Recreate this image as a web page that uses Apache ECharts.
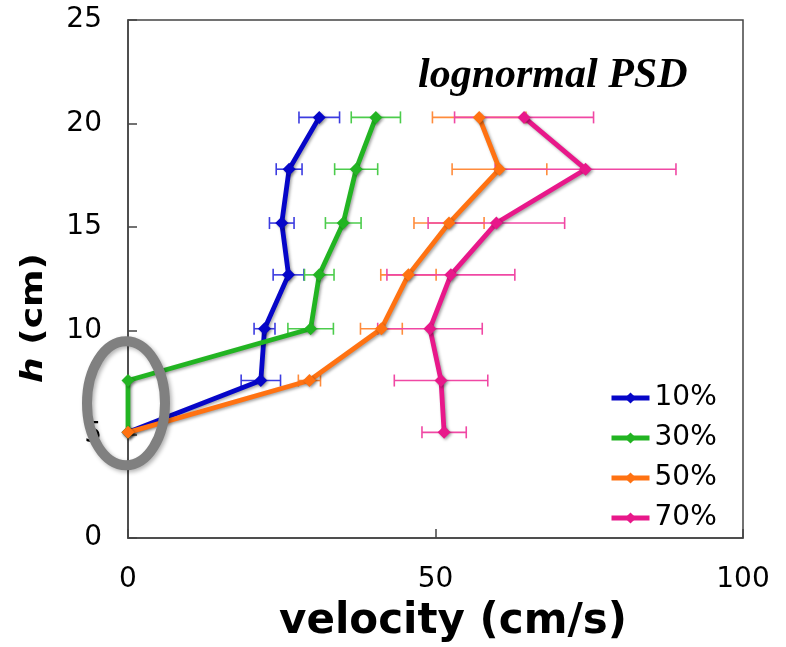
<!DOCTYPE html>
<html>
<head>
<meta charset="utf-8">
<script src="https://cdn.jsdelivr.net/npm/echarts@6/dist/echarts.min.js"></script>
<style>
  html, body { margin: 0; padding: 0; background: #fff; }
  #chart { width: 786px; height: 647px; }
</style>
</head>
<body>
<div id="chart"></div>
<script>
// Measurement heights (cm) shared by all runs
const heights = [5.1, 7.6, 10.1, 12.7, 15.2, 17.8, 20.3];

// Mean velocity (cm/s) and error half-widths for each fraction
const names = ['10%', '30%', '50%', '70%'];
const vel10 = [0, 21.6, 22.2, 26.1, 25.0, 26.2, 31.1];
const err10 = [null, 3.2, 1.7, 2.5, 2.0, 2.1, 3.3];
const vel30 = [0, 0, 29.7, 31.1, 35.0, 37.1, 40.3];
const err30 = [null, null, 3.7, 2.4, 2.9, 3.5, 4.0];
const vel50 = [0, 29.5, 41.2, 45.6, 52.2, 60.4, 57.1];
const err50 = [null, 1.8, 3.4, 4.5, 5.7, 7.7, 7.6];
const vel70 = [51.4, 50.9, 49.1, 52.5, 59.9, 74.4, 64.4];
const err70 = [3.6, 7.6, 8.5, 10.4, 11.1, 14.7, 11.3];

const xTicks = [0, 50, 100];
const yTicks = [0, 5, 10, 15, 20, 25];

const lineColors = ['#0606c8', '#22b422', '#ff7212', '#e8188a'];
const barColors = ['#3c3ce0', '#4ccc4c', '#ff8c3c', '#f048a4'];

const velocities = [vel10, vel30, vel50, vel70];
const errors = [err10, err30, err50, err70];

const chart = echarts.init(document.getElementById('chart'), null, { renderer: 'canvas' });

const shadow = {
  shadowColor: 'rgba(0,0,0,0.35)',
  shadowBlur: 3,
  shadowOffsetX: 1.5,
  shadowOffsetY: 1.5
};

const series = [];

// Horizontal error bars, drawn beneath the profile lines
velocities.forEach((vel, i) => {
  const data = [];
  vel.forEach((v, k) => {
    if (errors[i][k] != null) data.push([v, heights[k], errors[i][k]]);
  });
  series.push({
    type: 'custom',
    name: names[i] + ' err',
    z: 1,
    silent: true,
    encode: { x: 0, y: 1 },
    data: data,
    renderItem: function (params, api) {
      const x = api.value(0), y = api.value(1), e = api.value(2);
      const p0 = api.coord([x - e, y]);
      const p1 = api.coord([x + e, y]);
      const cap = 6;
      const st = { stroke: barColors[i], lineWidth: 1.6 };
      return {
        type: 'group',
        children: [
          { type: 'line', shape: { x1: p0[0], y1: p0[1], x2: p1[0], y2: p1[1] }, style: st },
          { type: 'line', shape: { x1: p0[0], y1: p0[1] - cap, x2: p0[0], y2: p0[1] + cap }, style: st },
          { type: 'line', shape: { x1: p1[0], y1: p1[1] - cap, x2: p1[0], y2: p1[1] + cap }, style: st }
        ]
      };
    }
  });
});

// Velocity profiles
velocities.forEach((vel, i) => {
  series.push({
    type: 'line',
    name: names[i],
    z: 2 + i,
    data: vel.map((v, k) => [v, heights[k]]),
    symbol: 'diamond',
    symbolSize: 13,
    showSymbol: true,
    lineStyle: Object.assign({ color: lineColors[i], width: 4.8 }, shadow),
    itemStyle: Object.assign({ color: lineColors[i] }, shadow),
    emphasis: { disabled: true },
    animation: false
  });
});

const tickFont = { fontFamily: 'DejaVu Sans', fontSize: 28, color: '#000' };

chart.setOption({
  animation: false,
  grid: {
    left: 128, right: 43, top: 20, bottom: 109,
    show: true, borderColor: '#444', borderWidth: 1.5, backgroundColor: '#fff'
  },
  xAxis: {
    type: 'value', min: xTicks[0], max: xTicks[xTicks.length - 1], interval: 50,
    axisLine: { show: true, lineStyle: { color: '#444', width: 1.5 } },
    axisTick: { show: true, inside: true, length: 9, lineStyle: { color: '#444', width: 1.5 } },
    axisLabel: Object.assign({ margin: 28 }, tickFont),
    splitLine: { show: false }
  },
  yAxis: {
    type: 'value', min: yTicks[0], max: yTicks[yTicks.length - 1], interval: 5,
    axisLine: { show: true, lineStyle: { color: '#444', width: 1.5 } },
    axisTick: { show: true, inside: true, length: 9, lineStyle: { color: '#444', width: 1.5 } },
    axisLabel: Object.assign({ margin: 26 }, tickFont),
    splitLine: { show: false }
  },
  legend: {
    data: names,
    orient: 'vertical',
    left: 604, top: 378,
    itemWidth: 38, itemHeight: 14, itemGap: 10,
    lineStyle: { width: 5 },
    textStyle: { fontFamily: 'DejaVu Sans', fontSize: 28, color: '#000', lineHeight: 30 },
    selectedMode: false
  },
  series: series
});

// Axis titles, the distribution label and the highlighted near-bed region
const center = chart.convertToPixel({ gridIndex: 0 }, [0, 6.5]);
chart.setOption({
  graphic: [
    {
      type: 'text', x: 453, y: 622,
      style: {
        text: 'velocity (cm/s)', align: 'center', verticalAlign: 'middle',
        fontFamily: 'DejaVu Sans', fontWeight: 'bold', fontSize: 42, fill: '#000'
      }
    },
    {
      type: 'text', x: 34, y: 318, rotation: Math.PI / 2, scaleY: 0.85,
      style: {
        text: '{i|h} (cm)', align: 'center', verticalAlign: 'middle',
        fontFamily: 'DejaVu Sans', fontWeight: 'bold', fontSize: 36, fill: '#000',
        rich: { i: { fontFamily: 'DejaVu Sans', fontWeight: 'bold', fontStyle: 'italic', fontSize: 36 } }
      }
    },
    {
      type: 'text', x: 418, y: 76,
      style: {
        text: 'lognormal PSD', align: 'left', verticalAlign: 'middle',
        fontFamily: 'Liberation Serif', fontWeight: 'bold', fontStyle: 'italic', fontSize: 42, fill: '#000'
      }
    },
    {
      type: 'ellipse', z: 100,
      shape: { cx: center[0] - 2, cy: center[1], rx: 39, ry: 62 },
      style: {
        fill: null, stroke: '#808080', lineWidth: 10,
        shadowColor: 'rgba(0,0,0,0.3)', shadowBlur: 4, shadowOffsetX: 2, shadowOffsetY: 2
      }
    }
  ]
});
</script>
</body>
</html>
